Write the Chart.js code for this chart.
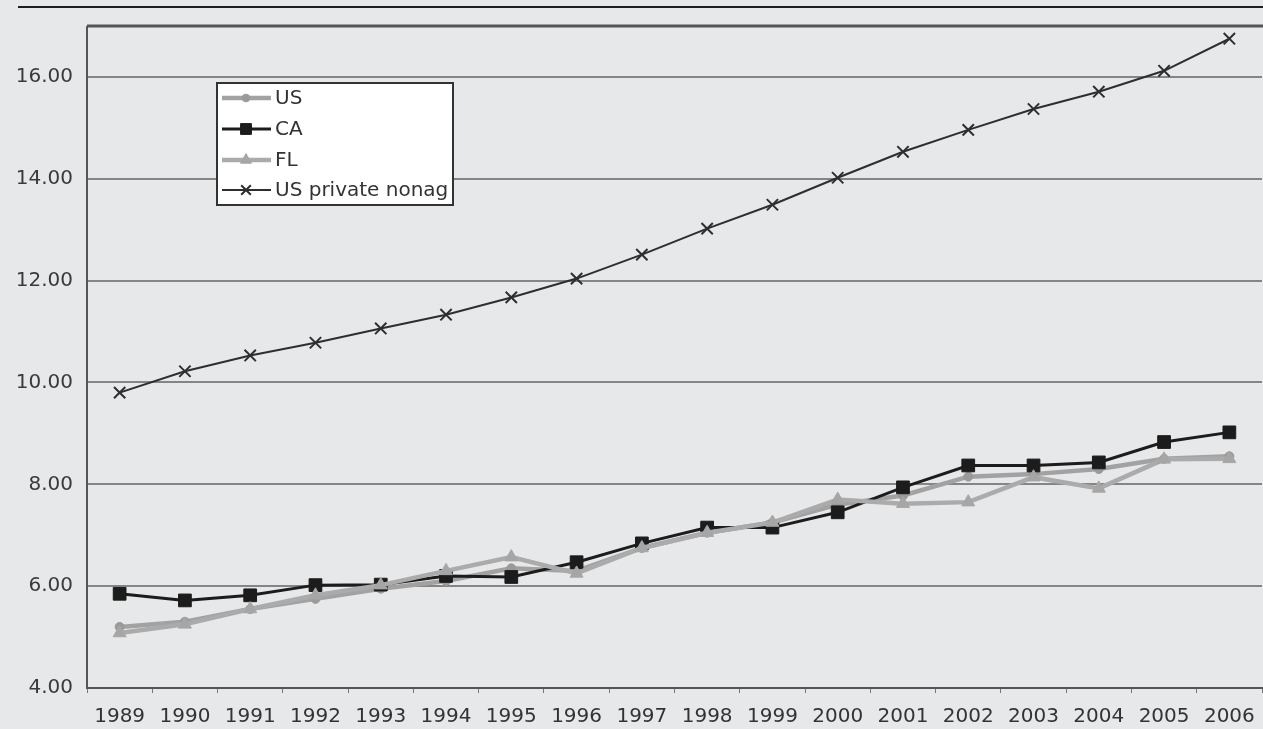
<!DOCTYPE html>
<html>
<head>
<meta charset="utf-8">
<script src="https://cdn.jsdelivr.net/npm/chart.js@4.4.0/dist/chart.umd.min.js"></script>
<style>
  html, body { margin: 0; padding: 0; background: #e7e8ea; overflow: hidden; }
  #wrap { position: relative; width: 1263px; height: 729px; overflow: hidden; }
  #topline { position: absolute; left: 18px; top: 6px; width: 1245px; height: 2px; background: #1e1e1e; z-index: 2; }
  canvas { position: absolute; left: 0; top: 0; }
</style>
</head>
<body>
<div id="wrap">
  <div id="topline"></div>
  <canvas id="c" width="1272" height="729"></canvas>
</div>
<script>
const years = ['1989','1990','1991','1992','1993','1994','1995','1996','1997','1998','1999','2000','2001','2002','2003','2004','2005','2006'];
const usValues    = [5.20, 5.30, 5.55, 5.75, 5.95, 6.10, 6.35, 6.30, 6.75, 7.05, 7.25, 7.60, 7.78, 8.15, 8.20, 8.30, 8.50, 8.55];
const caValues    = [5.85, 5.72, 5.82, 6.02, 6.03, 6.20, 6.18, 6.47, 6.84, 7.15, 7.15, 7.45, 7.94, 8.37, 8.37, 8.43, 8.83, 9.02];
const flValues    = [5.08, 5.25, 5.55, 5.82, 6.02, 6.30, 6.57, 6.25, 6.75, 7.05, 7.25, 7.70, 7.62, 7.65, 8.14, 7.92, 8.49, 8.50];
const nonagValues = [9.80, 10.22, 10.53, 10.78, 11.06, 11.33, 11.67, 12.04, 12.51, 13.02, 13.49, 14.02, 14.53, 14.96, 15.37, 15.71, 16.12, 16.75];
const yTicks = [4, 6, 8, 10, 12, 14, 16];
const seriesNames = ['US', 'CA', 'FL', 'US private nonag'];

const FONT = 'DejaVu Sans';

const legendPlugin = {
  id: 'boxLegend',
  afterDraw(chart) {
    const ctx = chart.ctx;
    const bx = 217, by = 83, bw = 236, bh = 122;
    ctx.save();
    ctx.fillStyle = '#ffffff';
    ctx.fillRect(bx, by, bw, bh);
    ctx.strokeStyle = '#333333';
    ctx.lineWidth = 2;
    ctx.strokeRect(bx, by, bw, bh);
    const rows = [98, 129, 160, 190];
    chart.data.datasets.forEach((ds, i) => {
      const y = rows[i];
      ctx.strokeStyle = ds.borderColor;
      ctx.lineWidth = ds.borderWidth;
      ctx.beginPath();
      ctx.moveTo(222, y);
      ctx.lineTo(271, y);
      ctx.stroke();
      ctx.fillStyle = ds.pointBackgroundColor;
      ctx.strokeStyle = ds.pointBorderColor;
      ctx.lineWidth = ds.pointBorderWidth || 1;
      Chart.helpers.drawPoint(ctx, {
        pointStyle: ds.pointStyle,
        radius: ds.pointRadius * 0.85,
        rotation: 0,
        borderWidth: ds.pointBorderWidth || 1
      }, 246, y);
      ctx.fillStyle = '#333333';
      ctx.font = '20px "' + FONT + '"';
      ctx.textBaseline = 'middle';
      ctx.textAlign = 'left';
      ctx.fillText(ds.label, 275, y + 1);
    });
    ctx.restore();
  }
};

const framePlugin = {
  id: 'frame',
  beforeDatasetsDraw(chart) {
    const a = chart.chartArea, ctx = chart.ctx;
    ctx.save();
    ctx.strokeStyle = '#555555';
    ctx.lineWidth = 3;
    ctx.beginPath();
    ctx.moveTo(a.left, a.top);
    ctx.lineTo(a.right + 2, a.top);
    ctx.stroke();
    ctx.lineWidth = 2;
    ctx.beginPath();
    ctx.moveTo(a.left, a.top);
    ctx.lineTo(a.left, a.bottom);
    ctx.lineTo(a.right + 2, a.bottom);
    ctx.stroke();
    ctx.restore();
  }
};

function mkDataset(label, data, color, ptColor, style, radius, width, order, ptBorderWidth) {
  return {
    label, data,
    borderColor: color,
    backgroundColor: ptColor,
    pointBackgroundColor: ptColor,
    pointBorderColor: ptColor,
    pointStyle: style,
    pointRadius: radius,
    pointHoverRadius: radius,
    pointBorderWidth: ptBorderWidth,
    borderWidth: width,
    tension: 0,
    order
  };
}

new Chart(document.getElementById('c'), {
  type: 'line',
  data: {
    labels: years,
    datasets: [
      mkDataset(seriesNames[0], usValues, '#a2a2a2', '#9a9a9a', 'circle', 4.5, 4.5, 4, 1),
      mkDataset(seriesNames[1], caValues, '#1c1c1c', '#1c1c1c', 'rect', 9, 3, 3, 1),
      mkDataset(seriesNames[2], flValues, '#ababab', '#a6a6a6', 'triangle', 7.5, 4.5, 2, 1),
      mkDataset(seriesNames[3], nonagValues, '#2e2e2e', '#2e2e2e', 'crossRot', 8, 2, 1, 2)
    ]
  },
  options: {
    responsive: false,
    animation: false,
    devicePixelRatio: 1,
    layout: { padding: { top: 25, right: 0, left: 0, bottom: 0 } },
    plugins: { legend: { display: false }, tooltip: { enabled: false } },
    scales: {
      x: {
        offset: true,
        grid: { display: true, drawOnChartArea: false, drawTicks: true, tickLength: 5, color: '#777777', offset: true },
        border: { display: false },
        ticks: { color: '#333333', font: { family: FONT, size: 20 }, padding: 12, maxRotation: 0, autoSkip: false },
        afterFit(scale) { scale.height = 41; }
      },
      y: {
        min: 4, max: 17,
        afterBuildTicks(scale) { scale.ticks = yTicks.map(v => ({ value: v })); },
        grid: { color: '#858585', lineWidth: 2, drawTicks: false },
        border: { display: false },
        ticks: {
          color: '#3a3a3a', font: { family: FONT, size: 20 }, padding: 14,
          callback: v => Number(v).toFixed(2)
        },
        afterFit(scale) { scale.width = 87; }
      }
    }
  },
  plugins: [framePlugin, legendPlugin]
});
</script>
</body>
</html>
